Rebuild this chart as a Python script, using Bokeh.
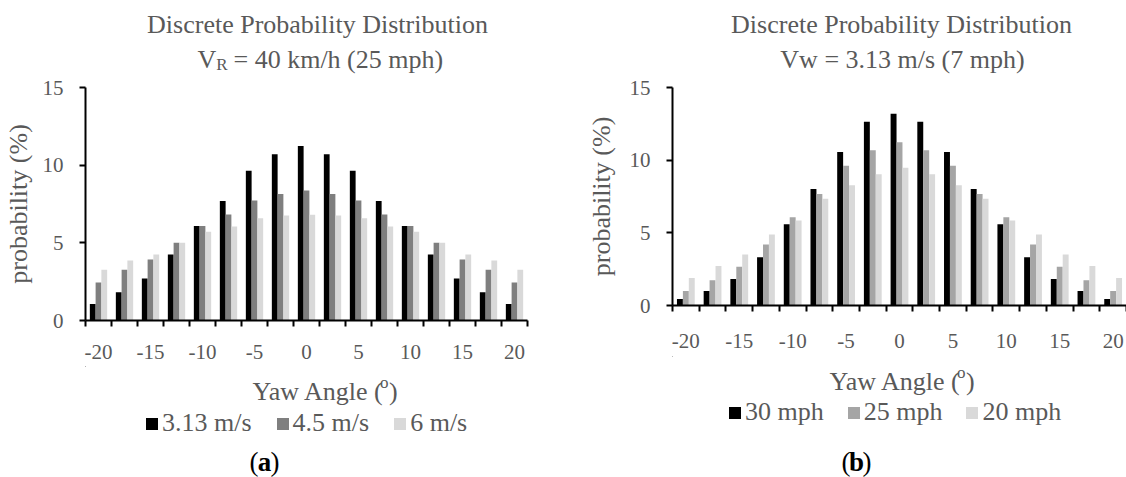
from bokeh.plotting import figure
from bokeh.models import (ColumnDataSource, FixedTicker, Legend, LegendItem, Range1d)
from bokeh.layouts import row, column
from bokeh.transform import dodge
from bokeh.core.properties import value
from bokeh.embed import file_html
from bokeh.resources import INLINE

# ---------------- data ----------------
angles = [-20, -17.5, -15, -12.5, -10, -7.5, -5, -2.5, 0, 2.5, 5, 7.5, 10, 12.5, 15, 17.5, 20]
tick_values = [-20, -15, -10, -5, 0, 5, 10, 15, 20]
tick_labels = ["-20", "-15", "-10", "-5", "0", "5", "10", "15", "20"]
y_ticks = [0, 5, 10, 15]

# (a) V_R = 40 km/h
names_a = ["3.13 m/s", "4.5 m/s", "6 m/s"]
a_313 = [1.07, 1.82, 2.70, 4.25, 6.09, 7.70, 9.64, 10.71, 11.24, 10.71, 9.64, 7.70, 6.09, 4.25, 2.70, 1.82, 1.07]
a_45 = [2.45, 3.26, 3.93, 5.00, 6.09, 6.82, 7.73, 8.15, 8.37, 8.15, 7.73, 6.82, 6.09, 5.00, 3.93, 3.26, 2.45]
a_6 = [3.26, 3.86, 4.25, 5.00, 5.71, 6.05, 6.59, 6.76, 6.80, 6.76, 6.59, 6.05, 5.71, 5.00, 4.25, 3.86, 3.26]

# (b) Vw = 3.13 m/s
names_b = ["30 mph", "25 mph", "20 mph"]
b_30 = [0.44, 0.99, 1.83, 3.32, 5.59, 8.02, 10.57, 12.65, 13.20, 12.65, 10.57, 8.02, 5.59, 3.32, 1.83, 0.99, 0.44]
b_25 = [0.99, 1.74, 2.66, 4.20, 6.08, 7.68, 9.61, 10.68, 11.23, 10.68, 9.61, 7.68, 6.08, 4.20, 2.66, 1.74, 0.99]
b_20 = [1.90, 2.71, 3.51, 4.88, 5.85, 7.34, 8.28, 9.03, 9.47, 9.03, 8.28, 7.34, 5.85, 4.88, 3.51, 2.71, 1.90]

colors_a = ["#000000", "#7f7f7f", "#d9d9d9"]
colors_b = ["#000000", "#a5a5a5", "#d9d9d9"]

FONT = "Liberation Serif"
TXT = "#595959"
PAGE_H = 477
TOP_H = 76
TOP_SHIFT = 8.5   # empirical offset of the top text strip
STEP = 2.5
XMIN, XMAX = angles[0] - STEP / 2, angles[-1] + STEP / 2
BAR_W = 0.222 * STEP


def strip(x0, x1, frame, y0, y1, shift=0.0):
    """Text-only panel; its frame shares the chart's left/right borders and
    its data coordinates equal page pixels."""
    L, R = frame[0], frame[1]
    p = figure(width=x1 - x0, height=y1 - y0, x_range=Range1d(L, R),
               y_range=Range1d(y1 + shift, y0 + shift), output_backend="svg",
               toolbar_location=None, x_axis_location=None, y_axis_location=None,
               min_border_left=L - x0, min_border_right=x1 - R,
               min_border_top=0, min_border_bottom=0)
    p.outline_line_color = None
    p.xgrid.visible = False
    p.ygrid.visible = False
    return p


def put(p, x, y, text, size="26px", align="left", baseline="alphabetic",
        color=TXT, style="normal"):
    p.text(x=[x], y=[y], text=[text], text_font=value(FONT), text_font_size=value(size),
           text_align=value(align), text_baseline=value(baseline),
           text_color=color, text_font_style=value(style))


def chart(x0, x1, y0, y1, frame, src, colors, tick_standoff, ylabel_standoff):
    L, R, T, B = frame
    p = figure(width=x1 - x0, height=y1 - y0,
               x_range=Range1d(XMIN, XMAX), y_range=Range1d(0, 15),
               output_backend="svg", toolbar_location=None,
               min_border_left=L - x0, min_border_right=x1 - R,
               min_border_top=T - y0, min_border_bottom=y1 - B)
    p.outline_line_color = None
    p.xgrid.visible = False
    p.ygrid.visible = False

    for i, (col, c) in enumerate(zip(["s0", "s1", "s2"], colors)):
        p.vbar(x=dodge("angle", (i - 1) * BAR_W, range=p.x_range), top=col,
               width=BAR_W, source=src, fill_color=c, line_color=None)

    xa = p.xaxis[0]
    xa.ticker = FixedTicker(ticks=tick_values,
                            minor_ticks=[a - STEP / 2 for a in angles] + [XMAX])
    xa.major_label_overrides = {v: t for v, t in zip(tick_values, tick_labels)}
    xa.major_tick_in = 0
    xa.major_tick_out = 0
    xa.minor_tick_in = 0
    xa.minor_tick_out = 6
    xa.minor_tick_line_width = 2
    xa.minor_tick_line_color = "black"
    xa.axis_line_width = 2
    xa.axis_line_color = "black"
    xa.major_label_standoff = tick_standoff
    xa.major_label_text_font = FONT
    xa.major_label_text_font_size = "21px"
    xa.major_label_text_color = TXT

    ya = p.yaxis[0]
    ya.ticker = FixedTicker(ticks=y_ticks, minor_ticks=[])
    ya.major_tick_in = 0
    ya.major_tick_out = 6
    ya.major_tick_line_width = 2
    ya.major_tick_line_color = "black"
    ya.minor_tick_line_color = None
    ya.axis_line_width = 2
    ya.axis_line_color = "black"
    ya.major_label_standoff = 16
    ya.major_label_text_font = FONT
    ya.major_label_text_font_size = "21px"
    ya.major_label_text_color = TXT
    ya.axis_label = "probability (%)"
    ya.axis_label_text_font = FONT
    ya.axis_label_text_font_size = "26px"
    ya.axis_label_text_font_style = "normal"
    ya.axis_label_text_color = TXT
    ya.axis_label_standoff = ylabel_standoff
    return p


def legend_strip(p, src, names, colors, loc, spacing):
    # legend entries use the same series; in this text panel's coordinates
    # the bars fall outside the visible ranges, so only the swatches show
    rs = [p.vbar(x="angle", top=col, width=BAR_W, source=src, fill_color=c, line_color=None)
          for col, c in zip(["s0", "s1", "s2"], colors)]
    lg = Legend(items=[LegendItem(label=n, renderers=[r]) for n, r in zip(names, rs)],
                orientation="horizontal", location=loc,
                glyph_width=15, glyph_height=15, label_standoff=3,
                spacing=spacing, padding=0, margin=0,
                border_line_color=None, background_fill_alpha=0,
                label_text_font=FONT, label_text_font_size="26px",
                label_text_color=TXT, label_height=15)
    p.add_layout(lg, "center")


# ---------------- left panel (a) ----------------
frame_a = (85, 527, 87, 320)
src_a = ColumnDataSource(dict(angle=angles, s0=a_313, s1=a_45, s2=a_6))
CUT_A = 366
top_a = strip(0, 560, frame_a, 0, TOP_H, TOP_SHIFT)
put(top_a, 317, 32.5, "Discrete Probability Distribution", align="center")
put(top_a, 197, 67, "V")
put(top_a, 215.8, 72, "R", size="17px")
put(top_a, 233, 67, "= 40 km/h (25 mph)")

pa = chart(0, 560, TOP_H, CUT_A, frame_a, src_a, colors_a, 18, 7)

bot_a = strip(0, 560, frame_a, CUT_A, PAGE_H)
put(bot_a, 252, 391, "Yaw Angle (")
put(bot_a, 379.5, 382, "o", size="17px")
put(bot_a, 388.5, 391, ")")
legend_strip(bot_a, src_a, names_a, colors_a, (144 - frame_a[0], PAGE_H - 438), 23)
put(bot_a, 258, 461, "(", size="27px", align="right", baseline="middle", color="black")
put(bot_a, 264, 461, "a", size="27px", align="center", baseline="middle", color="black", style="bold")
put(bot_a, 270, 461, ")", size="27px", align="left", baseline="middle", color="black")

# ---------------- right panel (b) ----------------
frame_b = (672, 1126, 87, 305)
src_b = ColumnDataSource(dict(angle=angles, s0=b_30, s1=b_25, s2=b_20))
CUT_B = 356
top_b = strip(560, 1126, frame_b, 0, TOP_H, TOP_SHIFT)
put(top_b, 901, 32.5, "Discrete Probability Distribution", align="center")
put(top_b, 902, 67, "Vw = 3.13 m/s (7 mph)", align="center")

pb = chart(560, 1126, TOP_H, CUT_B, frame_b, src_b, colors_b, 22, 11)

bot_b = strip(560, 1126, frame_b, CUT_B, PAGE_H)
put(bot_b, 829, 381, "Yaw Angle (")
put(bot_b, 956.5, 372, "o", size="17px")
put(bot_b, 965.5, 381, ")")
legend_strip(bot_b, src_b, names_b, colors_b, (727 - frame_b[0], PAGE_H - 427), 22)
put(bot_b, 850, 461, "(", size="27px", align="right", baseline="middle", color="black")
put(bot_b, 856, 461, "b", size="27px", align="center", baseline="middle", color="black", style="bold")
put(bot_b, 862, 461, ")", size="27px", align="left", baseline="middle", color="black")

layout = row(column(top_a, pa, bot_a), column(top_b, pb, bot_b))
open("out.html", "w").write(file_html(layout, INLINE))
